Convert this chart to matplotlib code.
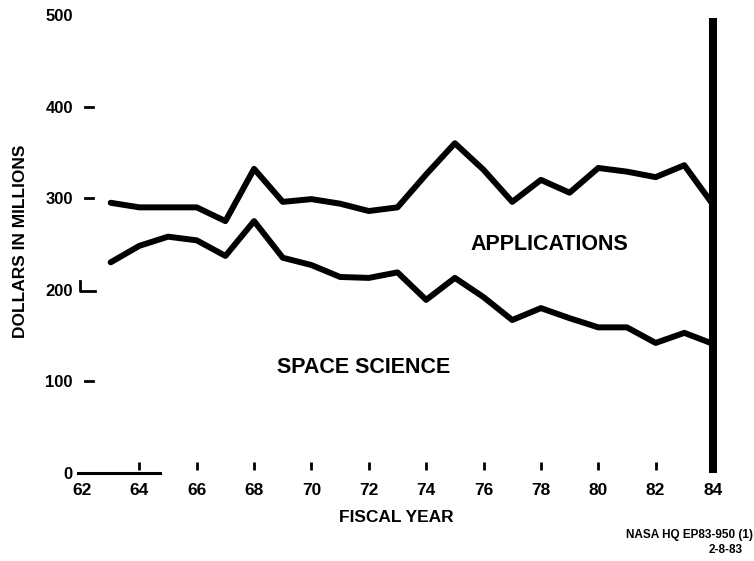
'''
NASA budget chart: applications vs space science, FY 1963-1984.
'''
import numpy as np
import matplotlib
matplotlib.use('Agg')
import matplotlib.pyplot as plt

plt.rcParams['font.family'] = ['Liberation Sans', 'DejaVu Sans']
plt.rcParams['font.weight'] = 'bold'

# data ########################################################################

years = [63, 64, 65, 66, 67, 68, 69, 70, 71, 72, 73, 74,
         75, 76, 77, 78, 79, 80, 81, 82, 83, 84]

# upper curve (applications boundary), $M
applications = [295, 290, 290, 290, 275, 332, 296, 299, 294, 286, 290, 326,
                360, 331, 296, 320, 306, 333, 329, 323, 336, 293]

# lower curve (space science), $M
space_science = [230, 248, 258, 254, 237, 275, 235, 227, 214, 213, 219, 189,
                 213, 192, 167, 180, 169, 159, 159, 142, 153, 141]

x_ticks = [62, 64, 66, 68, 70, 72, 74, 76, 78, 80, 82, 84]
x_labels = ['62', '64', '66', '68', '70', '72', '74', '76', '78', '80', '82', '84']
y_ticks = [0, 100, 200, 300, 400, 500]
y_labels = ['0', '100', '200', '300', '400', '500']
dash_ticks = [100, 300, 400]

cutoff_year = 84
cutoff_top = 497

###############################################################################

fig = plt.figure(figsize=(7.54, 5.61), dpi=100)
W, H = 754, 561
ax = fig.add_axes([82 / W, (H - 473) / H, 631 / W, 458 / H])
ax.set_xlim(62, 84)
ax.set_ylim(0, 500)
for s in ax.spines.values():
    s.set_visible(False)

# the two curves
for series in (applications, space_science):
    ax.plot(years, series, color='black', lw=4.3,
            solid_joinstyle='round', solid_capstyle='round', clip_on=False)

# heavy vertical line at the end of the record
ax.vlines(cutoff_year, 0, cutoff_top, color='black', lw=5.8, clip_on=False)

# ticks and labels
ax.set_xticks(x_ticks, x_labels, fontsize=12.5, fontweight='bold')
ax.set_yticks(y_ticks, y_labels, fontsize=12, fontweight='bold')
ax.tick_params(axis='x', length=0, pad=7)
ax.tick_params(axis='y', length=0, pad=6.5)

# little tick marks above the baseline
ax.vlines(x_ticks[1:-1], 0.007, 0.024, transform=ax.get_xaxis_transform(),
          color='black', lw=2, clip_on=False)
# short stub of x axis
ax.plot([-0.006, 0.124], [0, 0], transform=ax.get_yaxis_transform(),
        color='black', lw=2.2, clip_on=False)
# dashes on y axis
for v in dash_ticks:
    ax.plot([0.005, 0.017], [v, v], transform=ax.get_yaxis_transform(),
            color='black', lw=2, clip_on=False)
ax.plot([-0.003, -0.003, 0.02], [210, 199, 199], transform=ax.get_yaxis_transform(),
        color='black', lw=2, clip_on=False)

# region labels
ax.text(78.28, 249, 'APPLICATIONS', fontsize=15.5, fontweight='bold',
        ha='center', va='center')
ax.text(71.83, 115, 'SPACE SCIENCE', fontsize=15.5, fontweight='bold',
        ha='center', va='center')

# axis titles
fig.text(396 / W, 1 - 518 / H, 'FISCAL YEAR', fontsize=12.5, fontweight='bold',
         ha='center', va='center')
fig.text(21 / W, 1 - 241 / H, 'DOLLARS IN MILLIONS', fontsize=12.5,
         fontweight='bold', rotation=90, ha='center', va='center')

# footer
fig.text(753 / W, 1 - 535 / H, 'NASA HQ EP83-950 (1)', fontsize=8.5,
         fontweight='bold', ha='right', va='center')
fig.text(726 / W, 1 - 550 / H, '2-8-83', fontsize=8.5, fontweight='bold',
         ha='center', va='center')

fig.savefig('out.png', dpi=100, facecolor='white')
